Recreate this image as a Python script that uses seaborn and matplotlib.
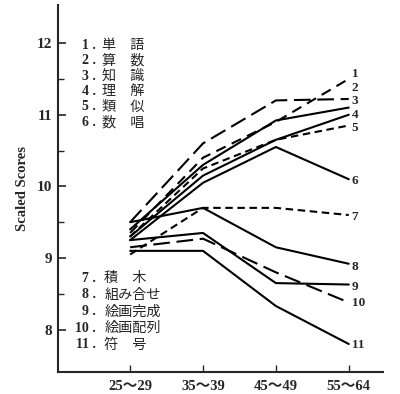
import numpy as np
import pandas as pd
import matplotlib
matplotlib.use("Agg")
import matplotlib.pyplot as plt
import seaborn as sns

# ---------------------------------------------------------------------------
# Data
# ---------------------------------------------------------------------------

age_groups = ["25～29", "35～39", "45～49", "55～64"]

test_ids = [1, 2, 3, 4, 5, 6, 7, 8, 9, 10, 11]
test_names = ["単　語", "算　数", "知　識", "理　解", "類　似", "数　唱",
              "積　木", "組み合せ", "絵画完成", "絵画配列", "符　号"]

scores = {
    1: [9.35, 10.40, 10.90, 11.50],
    2: [9.50, 10.60, 11.20, 11.22],
    3: [9.40, 10.30, 10.92, 11.10],
    4: [9.30, 10.15, 10.65, 11.00],
    5: [9.30, 10.25, 10.65, 10.85],
    6: [9.25, 10.05, 10.55, 10.10],
    7: [9.05, 9.70, 9.70, 9.60],
    8: [9.50, 9.70, 9.15, 8.92],
    9: [9.25, 9.35, 8.65, 8.63],
    10: [9.15, 9.27, 8.80, 8.38],
    11: [9.10, 9.10, 8.33, 7.80],
}

# y position of the number written at the right end of each line
end_label_y = [11.57, 11.37, 11.185, 11.0, 10.815, 10.08, 9.57, 8.88, 8.60, 8.37, 7.78]

# line styles: solid / dashed variants
line_styles = {
    1: (0, (5, 3.2)),
    2: (0, (8, 3.2)),
    3: "-",
    4: "-",
    5: (0, (3.6, 2.2)),
    6: "-",
    7: (0, (3.6, 2.2)),
    8: "-",
    9: "-",
    10: (0, (8, 3.2)),
    11: "-",
}

# ---------------------------------------------------------------------------
# Styling
# ---------------------------------------------------------------------------

sns.set_style("ticks")
serif = ["Liberation Serif", "Noto Sans CJK JP", "DejaVu Sans"]
cjk = ["Noto Sans CJK JP", "DejaVu Sans"]
plt.rcParams["font.family"] = serif

long_df = pd.DataFrame([
    {"age": age, "score": val, "test": t}
    for t in test_ids
    for age, val in zip(age_groups, scores[t])
])

fig = plt.figure(figsize=(4.0, 3.94), dpi=100)
ax = fig.add_axes([0.145, 0.056, 0.8125, 0.931])

for t in test_ids:
    sub = long_df[long_df["test"] == t]
    sns.lineplot(data=sub, x="age", y="score", ax=ax, color="black",
                 linewidth=1.5, linestyle=line_styles[t], sort=False)

# numbers at line ends
for t, ly in zip(test_ids, end_label_y):
    ax.text(3.04, ly, str(t), fontsize=9.5, fontweight="bold", ha="left",
            va="center", family=serif)

# legend blocks written inside the plot
upper_y = 11.97
lower_y = 8.72
for i, (t, name) in enumerate(zip(test_ids, test_names)):
    if t <= 6:
        y = upper_y - 0.215 * i
        xk = -0.39
    else:
        y = lower_y - 0.233 * (i - 6)
        xk = -0.355
    ax.text(-0.47, y, f"{t} .", fontsize=10, fontweight="bold", ha="right",
            va="center", family=serif)
    ax.text(xk, y, name, fontsize=10.2, ha="left", va="center", family=cjk)

ax.set_xlim(-0.99, 3.47)
ax.set_ylim(7.41, 12.53)
ax.set_yticks([8, 9, 10, 11, 12])
ax.set_yticks(np.arange(8.5, 12.0, 1.0), minor=True)
ax.tick_params(axis="y", which="major", direction="in", length=6, width=1.2,
               labelsize=11, pad=4)
ax.tick_params(axis="y", which="minor", direction="in", length=4, width=1.0)
ax.tick_params(axis="x", direction="in", length=5, width=1.0, labelsize=10.5,
               pad=6)
for lab in ax.get_xticklabels() + ax.get_yticklabels():
    lab.set_family(serif)
    lab.set_fontweight("bold")

ax.set_xlabel("")
ax.set_ylabel("Scaled Scores", fontsize=10.5, fontweight="bold", labelpad=6)
ax.spines["top"].set_visible(False)
ax.spines["right"].set_visible(False)
ax.spines["left"].set_linewidth(1.5)
ax.spines["bottom"].set_linewidth(1.5)
ax.patch.set_alpha(0)

fig.savefig("out.png", dpi=100)
